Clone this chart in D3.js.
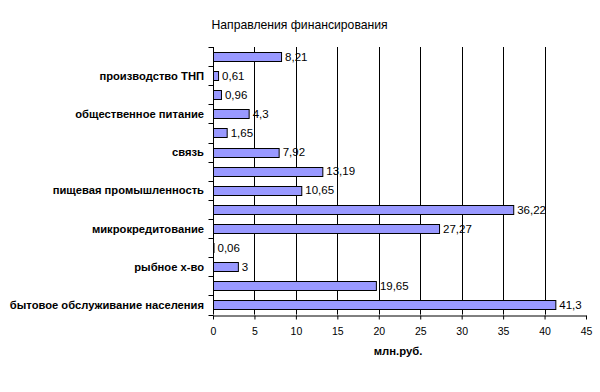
<!DOCTYPE html>
<html>
<head>
<meta charset="utf-8">
<script src="https://cdn.jsdelivr.net/npm/d3@7"></script>
<style>
  body { margin: 0; background: #fff; }
  svg { display: block; font-family: "Liberation Sans", Arial, sans-serif; }
</style>
</head>
<body>
<div id="chart"></div>
<script>
// Categories top to bottom (Excel shows only every other label)
var categories = [
  "", "производство ТНП", "", "общественное питание", "", "связь",
  "", "пищевая промышленность", "", "микрокредитование", "", "рыбное х-во",
  "", "бытовое обслуживание населения"
];
var values = [8.21, 0.61, 0.96, 4.3, 1.65, 7.92, 13.19, 10.65, 36.22, 27.27, 0.06, 3, 19.65, 41.3];
var xTicks = [0, 5, 10, 15, 20, 25, 30, 35, 40, 45];
var titleText = "Направления финансирования";
var xLabel = "млн.руб.";

var svgWidth = 600, svgHeight = 392;
var margin = {top: 47, left: 213, right: 14, bottom: 77};
var width = svgWidth - margin.left - margin.right;
var height = svgHeight - margin.top - margin.bottom - 0.4;

var svg = d3.select("#chart").append("svg")
  .attr("width", svgWidth)
  .attr("height", svgHeight);

// Title
svg.append("text")
  .attr("x", 211.5)
  .attr("y", 28.5)
  .attr("font-size", "12.2px")
  .attr("fill", "#000")
  .text(titleText);

var g = svg.append("g")
  .attr("transform", "translate(" + margin.left + "," + margin.top + ")");

var xScale = d3.scaleLinear().domain([0, 45]).range([0, width]);
var yScale = d3.scaleBand().domain(d3.range(categories.length)).range([0, height]).paddingInner(0.52).paddingOuter(0.26);
var bandScale = d3.scaleBand().domain(d3.range(categories.length)).range([0, height]);

// Gridlines
g.selectAll(".grid").data(xTicks.filter(d => d > 0 && d < 45)).enter().append("line")
  .attr("class", "grid")
  .attr("x1", d => Math.round(xScale(d)) + 0.5)
  .attr("x2", d => Math.round(xScale(d)) + 0.5)
  .attr("y1", 0)
  .attr("y2", height)
  .attr("stroke", "#000")
  .attr("stroke-width", 1);

// Bars
g.selectAll(".bar").data(values).enter().append("rect")
  .attr("class", "bar")
  .attr("x", 0.5)
  .attr("y", (d, i) => Math.round(yScale(i)) + 0.5)
  .attr("width", d => Math.max(0, xScale(d)))
  .attr("height", Math.round(yScale.bandwidth()))
  .attr("fill", "#9999FF")
  .attr("stroke", "#000")
  .attr("stroke-width", 1);

// Value labels
g.selectAll(".val").data(values).enter().append("text")
  .attr("class", "val")
  .attr("x", d => xScale(d) + 4)
  .attr("y", (d, i) => yScale(i) + yScale.bandwidth() / 2)
  .attr("dy", "0.36em")
  .attr("font-size", "11.5px")
  .attr("fill", "#000")
  .text(d => String(d).replace(".", ","));

// Y axis
var yAxisG = g.append("g");
yAxisG.append("line")
  .attr("x1", 0.5).attr("x2", 0.5)
  .attr("y1", 0).attr("y2", height)
  .attr("stroke", "#000");
yAxisG.selectAll(".ytick").data(d3.range(categories.length + 1)).enter().append("line")
  .attr("class", "ytick")
  .attr("x1", -4.5).attr("x2", 0.5)
  .attr("y1", d => Math.round(d * bandScale.step()) + 0.5)
  .attr("y2", d => Math.round(d * bandScale.step()) + 0.5)
  .attr("stroke", "#000");
yAxisG.selectAll(".ylab").data(categories).enter().append("text")
  .attr("class", "ylab")
  .attr("x", -9)
  .attr("y", (d, i) => bandScale(i) + bandScale.bandwidth() / 2)
  .attr("dy", "0.36em")
  .attr("text-anchor", "end")
  .attr("font-size", "11.2px")
  .attr("font-weight", "bold")
  .attr("fill", "#000")
  .text(d => d);

// X axis
var xAxisG = g.append("g")
  .attr("transform", "translate(0," + (Math.round(height) + 0.5) + ")");
xAxisG.call(d3.axisBottom(xScale).tickValues(xTicks).tickSize(4).tickSizeOuter(0).tickFormat(d3.format("d")));
xAxisG.select(".domain").attr("stroke", "#000");
xAxisG.selectAll(".tick line").attr("stroke", "#000");
xAxisG.selectAll(".tick text")
  .attr("y", 12)
  .attr("font-size", "10.5px")
  .attr("font-family", "Liberation Sans, Arial, sans-serif")
  .attr("fill", "#000");

// X axis title
svg.append("text")
  .attr("x", margin.left + 185)
  .attr("y", 355)
  .attr("text-anchor", "middle")
  .attr("font-size", "11.3px")
  .attr("font-weight", "bold")
  .attr("fill", "#000")
  .text(xLabel);
</script>
</body>
</html>
